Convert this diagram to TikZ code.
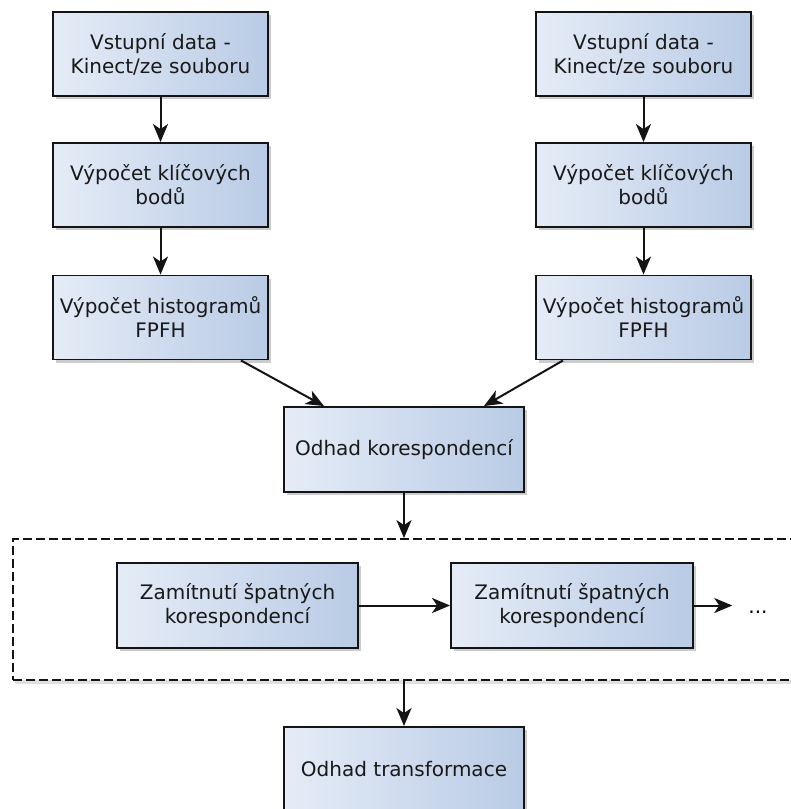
\documentclass[tikz,border=0pt]{standalone}
\usepackage{fontspec}
\setmainfont{DejaVu Sans}
\usetikzlibrary{arrows.meta,shadows}
\definecolor{boxleft}{RGB}{229,236,247}
\definecolor{boxright}{RGB}{185,203,229}
\definecolor{edge}{RGB}{20,20,20}
\tikzset{
  stepbox/.style={draw=edge, line width=1.9pt, rectangle, minimum width=215pt, minimum height=84pt,
    left color=boxleft, right color=boxright, align=center, font=\fontsize{20}{24}\selectfont,
    text=black!90, inner sep=2pt,
    drop shadow={shadow xshift=3pt, shadow yshift=-3pt, opacity=0.2, fill=black}},
  widebox/.style={stepbox, minimum width=240pt, minimum height=85pt},
  grpbox/.style={draw=edge, line width=1.8pt, dash pattern=on 9pt off 4pt, fill=white, rectangle,
    minimum width=797pt, minimum height=141pt, inner sep=0pt,
    drop shadow={shadow xshift=2pt, shadow yshift=-4pt, opacity=0.12, fill=black}},
  arr/.style={-{Stealth[length=18pt, width=15pt, inset=5pt]}, line width=2pt, draw=edge},
}
\begin{document}
\begin{tikzpicture}[x=1pt, y=-1pt]
\useasboundingbox (0,0) rectangle (791,809);
\node[grpbox] (grp) at (411.5,609.5) {};
\node[stepbox] (l1) at (160.5,54) {Vstupní data -\\Kinect/ze souboru};
\node[stepbox] (r1) at (643.5,54) {Vstupní data -\\Kinect/ze souboru};
\node[stepbox] (l2) at (160.5,185) {Výpočet klíčových\\bodů};
\node[stepbox] (r2) at (643.5,185) {Výpočet klíčových\\bodů};
\node[stepbox] (l3) at (160.5,317.5) {Výpočet histogramů\\FPFH};
\node[stepbox] (r3) at (643.5,317.5) {Výpočet histogramů\\FPFH};
\node[widebox] (ok) at (404,449.5) {Odhad korespondencí};
\node[widebox, minimum width=241pt] (z1) at (237.5,605.5) {Zamítnutí špatných\\korespondencí};
\node[widebox, minimum width=242pt] (z2) at (572,605.5) {Zamítnutí špatných\\korespondencí};
\node[font=\fontsize{20}{24}\selectfont, inner sep=0pt, anchor=base] (dots) at (758,613) {...};
\node[widebox] (tr) at (404,769.5) {Odhad transformace};
\draw[arr] (l1) -- (l2);
\draw[arr] (l2) -- (l3);
\draw[arr] (r1) -- (r2);
\draw[arr] (r2) -- (r3);
\draw[arr] ([xshift=-28pt]l3.south east) -- ([xshift=41pt]ok.north west);
\draw[arr] ([xshift=28pt]r3.south west) -- ([xshift=-41pt]ok.north east);
\draw[arr] (ok.south) -- (ok.south |- grp.north);
\draw[arr] (z1) -- (z2);
\draw[arr] (z2.east) -- ([xshift=-16pt]dots.west |- z2.east);
\draw[arr] (grp.south -| tr.north) -- (tr.north);
\end{tikzpicture}
\end{document}
